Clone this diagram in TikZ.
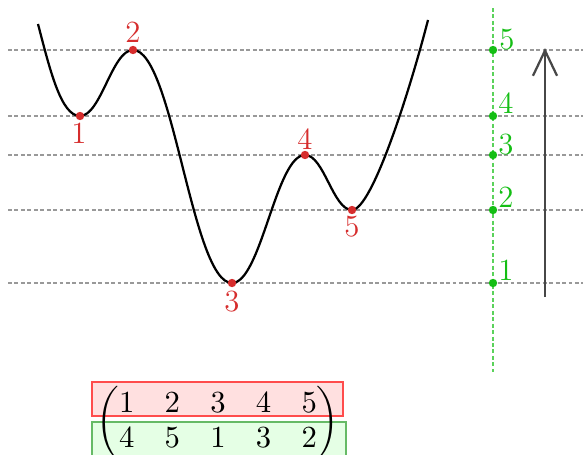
\documentclass[tikz,border=0pt]{standalone}
\usepackage{amsmath}
\usetikzlibrary{arrows.meta}
\definecolor{myred}{RGB}{214,45,45}
\definecolor{mygreen}{RGB}{20,190,20}
\begin{document}
\begin{tikzpicture}[x=0.357pt,y=-0.357pt,
  every node/.style={font=\fontsize{11}{12.5}\selectfont},
  level/.style={black!40, line width=0.4pt, dash pattern=on 1.4pt off 0.9pt},
  vline/.style={mygreen!70, line width=0.4pt, dash pattern=on 1.4pt off 0.9pt},
  reddot/.style={circle,fill=myred,inner sep=0pt,minimum size=3pt},
  greendot/.style={circle,fill=mygreen,inner sep=0pt,minimum size=3pt},
  rlab/.style={text=myred,inner sep=1pt},
  glab/.style={text=mygreen,inner sep=1pt},
  curve/.style={line width=0.8pt},
  uparrow/.style={line width=0.8pt, draw=black!72, -{Straight Barb[length=9pt,width=8.6pt,line width=0.8pt]}},
  redbox/.style={draw=red!70, fill=red!12, line width=0.4pt},
  greenbox/.style={draw=green!55!black!60, fill=green!10, line width=0.4pt}]
\useasboundingbox (0,0) rectangle (583,454);
% level lines
\foreach \y/\n in {50/5,116/4,155/3,210/2,283/1} {
  \coordinate (l\n a) at (8,\y);
  \coordinate (l\n b) at (583,\y);
  \draw[level] (l\n a) -- (l\n b);
}
% green vertical line
\coordinate (va) at (493,8);
\coordinate (vb) at (493,372);
\draw[vline] (va) -- (vb);
% curve
\coordinate (s) at (38,24);
\coordinate (p1) at (80,116);
\coordinate (p2) at (133,50);
\coordinate (p3) at (232,283);
\coordinate (p4) at (305,155);
\coordinate (p5) at (352,210);
\coordinate (e) at (428,20);
\draw[curve] (s) .. controls (50,70) and (61,116) .. (p1)
  .. controls (101,116) and (112,50) .. (p2)
  .. controls (173,50) and (192,283) .. (p3)
  .. controls (261,283) and (276,155) .. (p4)
  .. controls (324,155) and (333,210) .. (p5)
  .. controls (372,210) and (410,90) .. (e);
% red points and labels
\foreach \i in {1,...,5} \node[reddot] (r\i) at (p\i) {};
\node[rlab] (rl1) at (79,133) {1};
\node[rlab] (rl2) at (133,32) {2};
\node[rlab] (rl3) at (232,302) {3};
\node[rlab] (rl4) at (305,139) {4};
\node[rlab] (rl5) at (352,227) {5};
% green points and labels
\foreach \y/\n in {50/5,116/4,155/3,210/2,283/1}
  \node[greendot] (g\n) at (493,\y) {};
\node[glab] (gl5) at (507,40) {5};
\node[glab] (gl4) at (506,103) {4};
\node[glab] (gl3) at (506,145) {3};
\node[glab] (gl2) at (506,197) {2};
\node[glab] (gl1) at (506,270) {1};
% arrow
\coordinate (aa) at (545,297);
\coordinate (ab) at (545,48);
\draw[uparrow] (aa) -- (ab);
% matrix
\draw[redbox] (92,382) rectangle (343,416);
\draw[greenbox] (92,422) rectangle (346,462);
\node (mat) at (218,423) {\setlength{\arraycolsep}{5.4pt}$\begin{pmatrix}1&2&3&4&5\\4&5&1&3&2\end{pmatrix}$};
\end{tikzpicture}
\end{document}
